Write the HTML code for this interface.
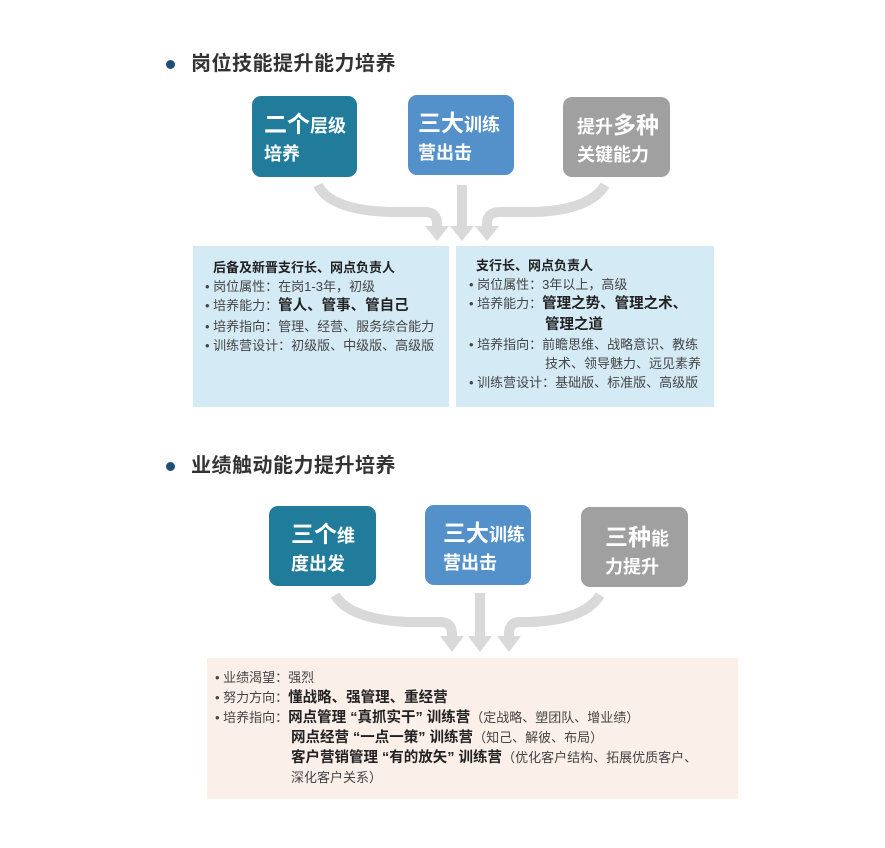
<!DOCTYPE html>
<html><head><meta charset="utf-8"><style>
body{margin:0;width:885px;height:848px;background:#fff;position:relative;overflow:hidden;font-family:"Liberation Sans","Noto Sans CJK SC",sans-serif;color:#333}
.a{position:absolute}
.dot{width:9px;height:9px;border-radius:50%;background:#1f4e79}
.tt{font-size:20px;font-weight:bold;letter-spacing:0.5px;color:#333;line-height:24px}
.bx{border-radius:9px;color:#fff;font-weight:bold;box-sizing:border-box;padding-left:14px;line-height:27px}
.bx .b{font-size:23px}.bx .s{font-size:18px}
.info{font-size:13px;line-height:19.2px;color:#444;box-sizing:border-box}
.big{font-size:14.5px;font-weight:bold;color:#222}
</style></head><body>
<div class="a dot" style="left:166px;top:60px"></div>
<div class="a tt" style="left:191px;top:52px">岗位技能提升能力培养</div>
<div class="a bx" style="left:252px;top:96px;width:105px;height:81px;background:#217c9c;padding-top:15px;padding-left:12px"><span class="b">二个</span><span class="s">层级</span><br><span class="s">培养</span></div>
<div class="a bx" style="left:408px;top:95px;width:106px;height:80px;background:#5490c9;padding-top:15px;padding-left:10px"><span class="b">三大</span><span class="s">训练</span><br><span class="s">营出击</span></div>
<div class="a bx" style="left:563px;top:97px;width:107px;height:80px;background:#a0a0a0;padding-top:15px;padding-left:14px"><span class="s">提升</span><span class="b">多种</span><br><span class="s">关键能力</span></div>
<svg class="a" style="left:0;top:0" width="885" height="848">
<g fill="none" stroke="#d9d9d9" stroke-width="10">
<path d="M318 185 Q330 210 390 212 L425 212 Q437 212 437 224 L437 228"/>
<path d="M462 185 L462 228"/>
<path d="M605 185 Q590 210 535 212 L500 212 Q487 212 487 224 L487 228"/>
<path d="M335 595 Q350 620 410 622 L440 622 Q452 622 452 634 L452 638"/>
<path d="M480 593 L480 638"/>
<path d="M600 595 Q585 620 530 622 L520 622 Q509 622 509 634 L509 638"/>
</g>
<g fill="#d9d9d9">
<polygon points="425,226 449,226 437,241"/>
<polygon points="450,226 474,226 462,241"/>
<polygon points="475,226 499,226 487,241"/>
<polygon points="440,636 464,636 452,652"/>
<polygon points="468,636 492,636 480,652"/>
<polygon points="497,636 521,636 509,652"/>
</g>
</svg>
<div class="a info" style="left:193px;top:246px;width:256px;height:161px;background:#d4ebf6;padding:12px 0 0 12px">
<div style="font-weight:bold;color:#222;padding-left:8px">后备及新晋支行长、网点负责人</div>
<div>• 岗位属性：在岗1-3年，初级</div>
<div>• 培养能力：<span class="big">管人、管事、管自己</span></div>
<div>• 培养指向：管理、经营、服务综合能力</div>
<div>• 训练营设计：初级版、中级版、高级版</div>
</div>
<div class="a info" style="left:456px;top:246px;width:258px;height:161px;background:#d4ebf6;padding:10px 0 0 13px">
<div style="font-weight:bold;color:#222;padding-left:7px">支行长、网点负责人</div>
<div>• 岗位属性：3年以上，高级</div>
<div>• 培养能力：<span class="big">管理之势、管理之术、</span></div>
<div style="padding-left:76px"><span class="big">管理之道</span></div>
<div>• 培养指向：前瞻思维、战略意识、教练</div>
<div style="padding-left:76px">技术、领导魅力、远见素养</div>
<div>• 训练营设计：基础版、标准版、高级版</div>
</div>
<div class="a dot" style="left:166px;top:462px"></div>
<div class="a tt" style="left:191px;top:454px">业绩触动能力提升培养</div>
<div class="a bx" style="left:269px;top:506px;width:107px;height:80px;background:#217c9c;padding-top:15px;padding-left:22px"><span class="b">三个</span><span class="s">维</span><br><span class="s">度出发</span></div>
<div class="a bx" style="left:425px;top:505px;width:106px;height:80px;background:#5490c9;padding-top:15px;padding-left:18px"><span class="b">三大</span><span class="s">训练</span><br><span class="s">营出击</span></div>
<div class="a bx" style="left:581px;top:507px;width:107px;height:80px;background:#a0a0a0;padding-top:17px;padding-left:24px"><span class="b">三种</span><span class="s">能</span><br><span class="s">力提升</span></div>
<div class="a info" style="left:207px;top:658px;width:531px;height:141px;background:#fbefe9;padding:10px 0 0 8px;line-height:20px">
<div>• 业绩渴望：强烈</div>
<div>• 努力方向：<span class="big">懂战略、强管理、重经营</span></div>
<div>• 培养指向：<span class="big">网点管理 “真抓实干” 训练营</span>（定战略、塑团队、增业绩）</div>
<div style="padding-left:76px"><span class="big">网点经营 “一点一策” 训练营</span>（知己、解彼、布局）</div>
<div style="padding-left:76px"><span class="big">客户营销管理 “有的放矢” 训练营</span>（优化客户结构、拓展优质客户、</div>
<div style="padding-left:76px">深化客户关系）</div>
</div>
</body></html>
